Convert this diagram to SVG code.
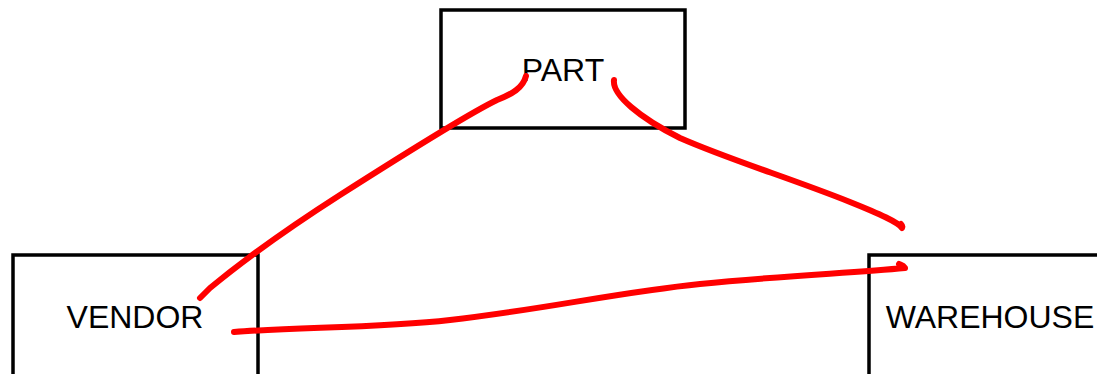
<svg xmlns="http://www.w3.org/2000/svg" width="1097" height="374" viewBox="0 0 1097 374">
  <style>
    .box { fill: #ffffff; stroke: #000000; stroke-width: 3.5; }
    .label { font-family: "Liberation Sans", Arial, sans-serif; font-size: 32px; fill: #000000; text-anchor: middle; }
    .ink { fill: none; stroke: #ff0000; stroke-width: 6; stroke-linecap: round; stroke-linejoin: round; }
  </style>
  <rect width="1097" height="374" fill="#ffffff"/>
  <g id="part">
    <rect class="box" x="441" y="10" width="244" height="118"/>
    <text class="label" x="563" y="81">PART</text>
  </g>
  <g id="vendor">
    <rect class="box" x="13" y="255" width="245" height="125"/>
    <text class="label" x="135" y="328">VENDOR</text>
  </g>
  <g id="warehouse">
    <rect class="box" x="869" y="255" width="240" height="125"/>
    <text class="label" x="990" y="328">WAREHOUSE</text>
  </g>
  <g id="connectors">
    <path class="ink" d="M 526 76 C 523 88 512 94 497 100 C 470 113 420 144 340 195 C 290 227 250 255 210 288 C 205 293 202 296 200 298"/>
    <path class="ink" d="M 614 80 C 612 95 640 118 680 138 C 730 160 790 178 850 202 C 880 214 898 222 902 228 C 903 226 902 225 901 224"/>
    <path class="ink" d="M 234 332 C 300 327 380 328 450 320 C 540 310 620 292 700 284 C 780 276 850 273 905 268 C 903 265 901 265 899 264"/>
  </g>
</svg>
